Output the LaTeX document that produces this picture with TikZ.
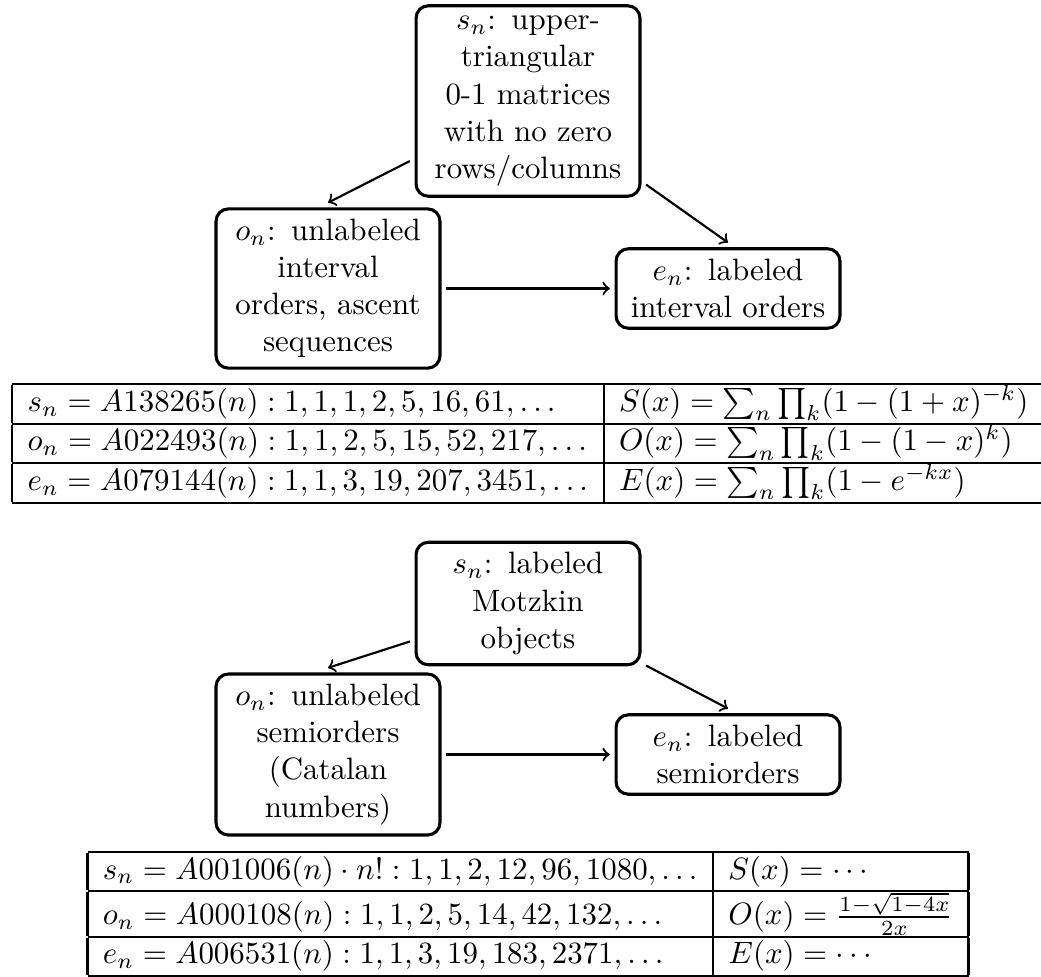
\documentclass[tikz,border=0pt]{standalone}
\setlength{\arrayrulewidth}{0.7pt}
\setlength{\tabcolsep}{5pt}
\begin{document}
\begin{tikzpicture}[x=0.32363pt, y=-0.32363pt,
  box/.style={draw, line width=1pt, rounded corners=4pt, text width=65.8pt, align=center, inner sep=3.333pt, outer sep=2pt},
  arr/.style={->, line width=0.7pt},
  tbl/.style={inner sep=0pt, outer sep=0pt, anchor=north}]
\useasboundingbox (0,0) rectangle (1041,976);
\clip (0,0) rectangle (1041,976);
% first diagram
\node[box] (s1) at (528,101) {$s_n$: upper-\\triangular\\0-1 matrices\\with no zero\\rows/columns};
\node[box] (o1) at (328,288.5) {$o_n$: unlabeled\\interval\\orders, ascent\\sequences};
\node[box] (e1) at (728,288.5) {$e_n$: labeled\\interval orders};
\draw[arr] (s1) -- (o1.north);
\draw[arr] (s1) -- (e1.north);
\draw[arr] (o1) -- (e1);
\node[tbl] (t1) at (528,383) {\begin{tabular}{|l|l|}\hline
$s_n = A138265(n) : 1,1,1,2,5,16,61,\ldots$ & $S(x) = \sum_n \prod_k (1-(1+x)^{-k})$ \\ \hline
$o_n = A022493(n) : 1,1,2,5,15,52,217,\ldots$ & $O(x) = \sum_n \prod_k (1-(1-x)^k)$ \\ \hline
$e_n = A079144(n) : 1,1,3,19,207,3451,\ldots$ & $E(x) = \sum_n \prod_k (1-e^{-kx})$ \\ \hline
\end{tabular}};
% second diagram
\node[box] (s2) at (528,603.5) {$s_n$: labeled\\Motzkin\\objects};
\node[box] (o2) at (328,754.5) {$o_n$: unlabeled\\semiorders\\(Catalan\\numbers)};
\node[box] (e2) at (728,754.5) {$e_n$: labeled\\semiorders};
\draw[arr] (s2) -- (o2.north);
\draw[arr] (s2) -- (e2.north);
\draw[arr] (o2) -- (e2);
\node[tbl] (t2) at (528,851) {\begin{tabular}{|l|l|}\hline
$s_n = A001006(n)\cdot n! : 1,1,2,12,96,1080,\ldots$ & $S(x) = \cdots$ \\ \hline
$o_n = A000108(n) : 1,1,2,5,14,42,132,\ldots$ & $O(x) = \frac{1-\sqrt{1-4x}}{2x}$ \\ \hline
$e_n = A006531(n) : 1,1,3,19,183,2371,\ldots$ & $E(x) = \cdots$ \\ \hline
\end{tabular}};
\end{tikzpicture}
\end{document}
